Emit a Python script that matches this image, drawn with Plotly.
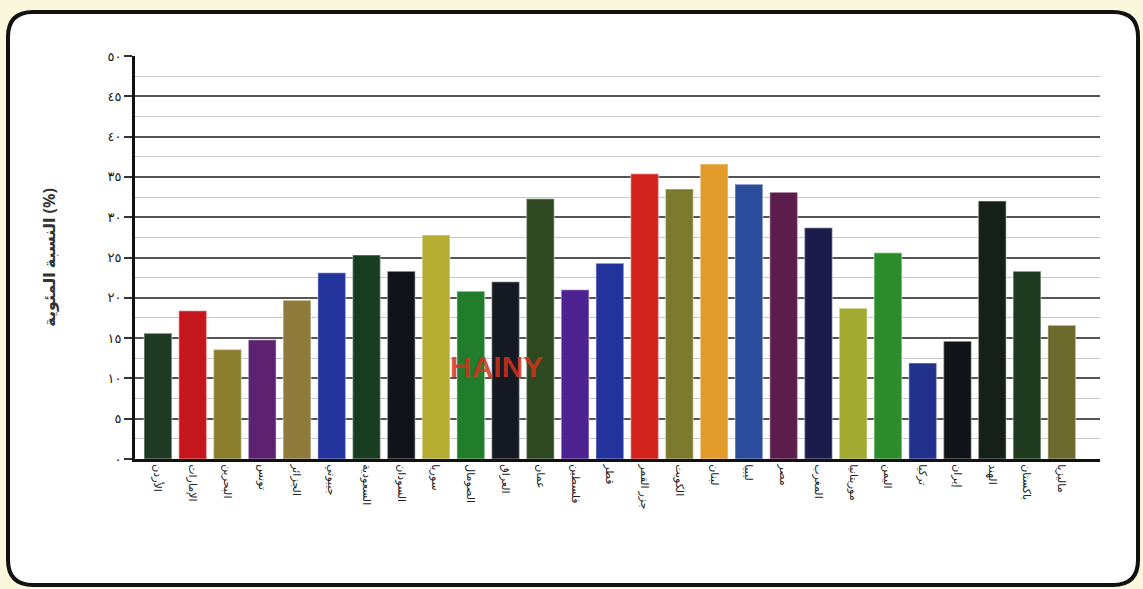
import plotly.graph_objects as go

# ---- data ----
categories = [
    "الأردن", "الإمارات", "البحرين", "تونس", "الجزائر", "جيبوتي", "السعودية",
    "السودان", "سوريا", "الصومال", "العراق", "عمان", "فلسطين", "قطر",
    "جزر القمر", "الكويت", "لبنان", "ليبيا", "مصر", "المغرب", "موريتانيا",
    "اليمن", "تركيا", "إيران", "الهند", "باكستان", "ماليزيا",
]
values = [15.6, 18.4, 13.6, 14.8, 19.7, 23.1, 25.3, 23.3, 27.8, 20.8, 22.0, 32.3,
          21.0, 24.3, 35.4, 33.5, 36.6, 34.1, 33.1, 28.7, 18.7, 25.6, 11.9, 14.6,
          32.0, 23.3, 16.6]
y_tickvals = [0, 5, 10, 15, 20, 25, 30, 35, 40, 45, 50]
y_ticktext = ["٠", "٥", "١٠", "١٥", "٢٠", "٢٥", "٣٠", "٣٥", "٤٠", "٤٥", "٥٠"]
y_title = "النسبة المئوية (%)"

bar_colors = [
    "#1f3a24", "#c4161c", "#8a7d2c", "#5c2270", "#8e7b3c", "#23339c", "#183d20",
    "#10141a", "#b6ae32", "#217c2c", "#151a22", "#2f4a20", "#4c2290", "#23339c",
    "#d2221c", "#7c7a2c", "#e29c2c", "#2c4c9c", "#5c1c4c", "#1c1c4c", "#a2aa32",
    "#2c8c2c", "#21318c", "#101418", "#142018", "#203c20", "#6c6a2c",
]

fig = go.Figure()
fig.add_trace(go.Bar(
    x=categories, y=values,
    marker=dict(color=bar_colors, line=dict(color="rgba(255,255,255,0.35)", width=1.5)),
    width=0.8,
))

# frame (rounded rectangle) in paper coords
L, R, B, T = -0.1316, 1.0394, -0.3127, 1.109
rx, ry = 0.026, 0.062
path = (f"M {L+rx},{T} L {R-rx},{T} Q {R},{T} {R},{T-ry} L {R},{B+ry} "
        f"Q {R},{B} {R-rx},{B} L {L+rx},{B} Q {L},{B} {L},{B+ry} "
        f"L {L},{T-ry} Q {L},{T} {L+rx},{T} Z")
fig.add_shape(type="path", path=path, xref="paper", yref="paper",
              line=dict(color="#111", width=4), fillcolor="white", layer="below")

fig.add_annotation(text="<b>HAINY</b>", xref="paper", yref="paper", x=0.375, y=0.184,
                   showarrow=False, font=dict(size=30, color="rgba(210,50,30,0.85)",
                                              family="Liberation Sans"))

fig.update_layout(
    width=1143, height=589,
    margin=dict(l=135, r=43, t=56, b=130),
    paper_bgcolor="#fbf7dc",
    plot_bgcolor="white",
    showlegend=False,
    font=dict(family="Noto Sans, DejaVu Sans", color="#222"),
    bargap=0.2,
)
fig.update_xaxes(
    automargin=False,
    range=[-0.66, 27.1], showgrid=False,
    showline=True, linecolor="#111", linewidth=3,
    tickangle=90, tickfont=dict(size=11, color="#222"),
    ticks="",
)
fig.update_yaxes(
    automargin=False,
    range=[0, 50], tickvals=y_tickvals, ticktext=y_ticktext,
    showline=True, linecolor="#111", linewidth=3,
    ticks="outside", ticklen=8, tickwidth=2, tickcolor="#333",
    tickfont=dict(size=13, color="#222"),
    showgrid=True, gridcolor="#555", gridwidth=1.5,
    minor=dict(dtick=2.5, showgrid=True, gridcolor="#c8c8c8", gridwidth=1, ticks=""),
    zeroline=False,
    title=dict(text="<b>" + y_title + "</b>", font=dict(size=16, color="#333"), standoff=48),
)

fig.write_html(
    "out.html",
    config={"displayModeBar": False},
    post_script="document.body.style.margin='0';document.body.style.overflow='hidden';"
                "document.body.style.background='#fbf7dc';",
)
